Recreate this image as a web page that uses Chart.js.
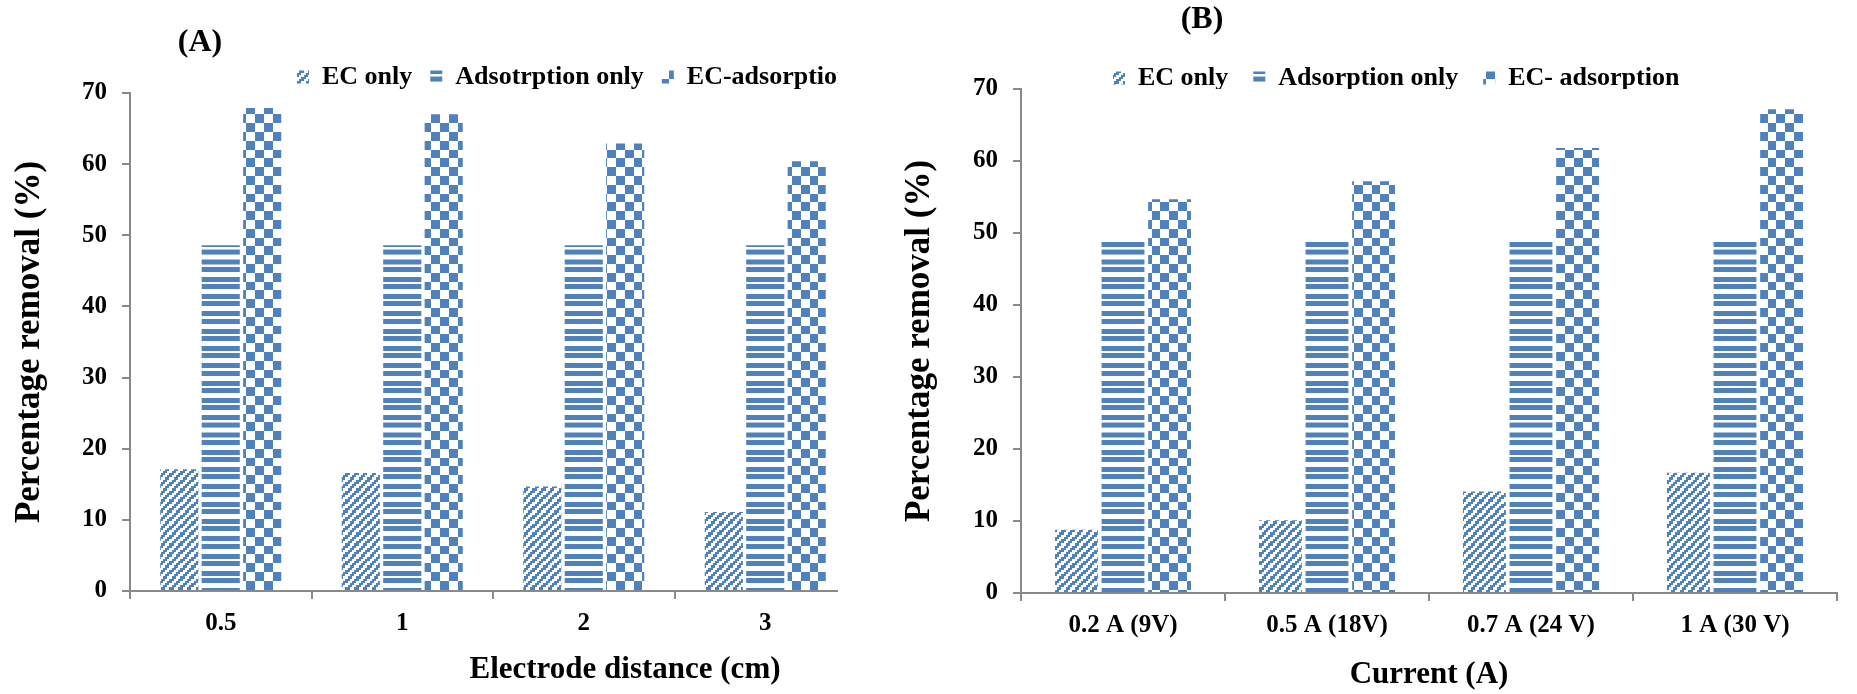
<!DOCTYPE html>
<html>
<head>
<meta charset="utf-8">
<title>Percentage removal</title>
<script src="https://cdn.jsdelivr.net/npm/chart.js@4.4.1/dist/chart.umd.min.js"></script>
<style>
  html, body { margin: 0; padding: 0; background: #fff; }
  #wrap { position: relative; width: 1857px; height: 694px; overflow: hidden; }
  #boxA { position: absolute; left: 0; top: 0; width: 838px; height: 694px; overflow: hidden; }
  #boxB { position: absolute; left: 870px; top: 0; width: 987px; height: 694px; }
</style>
</head>
<body>
<div id="wrap">
  <div id="boxA"><canvas id="chartA" width="870" height="694"></canvas></div>
  <div id="boxB"><canvas id="chartB" width="987" height="694"></canvas></div>
</div>
<script>
// (A) electrode distance
const distanceLabels = ['0.5', '1', '2', '3'];
const ecOnlyA = [17.1, 16.6, 14.7, 11.1];
const adsOnlyA = [48.6, 48.6, 48.6, 48.6];
const ecAdsA = [67.9, 67.0, 62.9, 60.4];

// (B) current
const currentLabels = ['0.2 A (9V)', '0.5 A (18V)', '0.7 A (24 V)', '1 A (30 V)'];
const ecOnlyB = [8.8, 10.1, 14.1, 16.7];
const adsOnlyB = [49.1, 49.1, 49.1, 49.1];
const ecAdsB = [54.7, 57.2, 61.8, 67.2];

const yTicks = [0, 10, 20, 30, 40, 50, 60, 70];

const BLUE = '#4f81bd';
const AXIS = '#898989';
const FONT = "'Liberation Serif', 'Times New Roman', serif";

// excel-like 8x8 fill patterns, scaled up
function bitmapPattern(rows, bit) {
  const k = 5, n = rows.length;
  const c = document.createElement('canvas');
  c.width = c.height = Math.round(n * bit * k);
  const g = c.getContext('2d');
  g.fillStyle = '#fff';
  g.fillRect(0, 0, c.width, c.height);
  g.fillStyle = BLUE;
  rows.forEach((r, y) => {
    for (let x = 0; x < n; x++) if (r[x] === '1') g.fillRect(x * bit * k, y * bit * k, bit * k, bit * k);
  });
  const p = g.createPattern(c, 'repeat');
  p.setTransform(new DOMMatrix().scale(1 / k));
  return p;
}

function stripePattern() {
  const k = 10;
  const c = document.createElement('canvas');
  c.width = 10; c.height = 173;
  const g = c.getContext('2d');
  g.fillStyle = '#fff';
  g.fillRect(0, 0, c.width, c.height);
  g.fillStyle = BLUE;
  g.fillRect(0, 0, 10, 50);
  g.fillRect(0, 73, 10, 50);
  const p = g.createPattern(c, 'repeat');
  p.setTransform(new DOMMatrix().scale(1 / k));
  return p;
}

const diagFill = bitmapPattern(['11001100', '10011001', '00110011', '01100110',
                                '11001100', '10011001', '00110011', '01100110'], 2.2);
const checkFill = bitmapPattern(['11110000', '11110000', '11110000', '11110000',
                                 '00001111', '00001111', '00001111', '00001111'], 2.2);
const stripeFill = stripePattern();

// move legend so the first swatch starts at startX
const legendShift = {
  id: 'legendShift',
  afterLayout(chart, args, opts) {
    const lg = chart.legend;
    if (!lg || !lg.lineWidths) return;
    const pad = lg.options.labels.padding;
    const cur = (lg.left + pad + lg.right - lg.lineWidths[0]) / 2;
    const dx = opts.startX - cur;
    lg.left += dx;
    lg.right += dx;
  }
};

// panel letters and free-standing titles
const extraText = {
  id: 'extraText',
  afterDraw(chart, args, opts) {
    const ctx = chart.ctx;
    ctx.save();
    ctx.fillStyle = '#000';
    ctx.textAlign = 'center';
    ctx.textBaseline = 'middle';
    (opts.items || []).forEach(t => {
      ctx.font = 'bold ' + t.size + 'px ' + FONT;
      ctx.fillText(t.text, t.x, t.y);
    });
    ctx.restore();
  }
};

function datasets(names, a, b, c) {
  return [
    { label: names[0], data: a, backgroundColor: diagFill },
    { label: names[1], data: b, backgroundColor: stripeFill },
    { label: names[2], data: c, backgroundColor: checkFill }
  ];
}

function buildOptions(o) {
  return {
    responsive: false,
    animation: false,
    events: [],
    datasets: { bar: { categoryPercentage: 0.685, barPercentage: 0.92, borderWidth: 0 } },
    layout: { padding: { top: o.padTop, right: o.padRight, left: 0, bottom: 0 } },
    plugins: {
      legend: {
        position: 'top',
        maxHeight: o.legendH,
        labels: { boxWidth: 12, boxHeight: 13, padding: o.legendPad, color: '#000',
                  font: { family: FONT, size: 26, weight: 'bold' } }
      },
      tooltip: { enabled: false },
      legendShift: { startX: o.legendX },
      extraText: { items: o.texts }
    },
    scales: {
      x: {
        afterFit: s => { s.height = o.xHeight; },
        grid: { offset: true, drawOnChartArea: false, drawTicks: true, tickLength: 8, color: AXIS, lineWidth: 2 },
        border: { display: true, color: AXIS, width: 2 },
        ticks: { color: '#000', padding: 10, maxRotation: 0, autoSkip: false,
                 font: { family: FONT, size: 25, weight: 'bold' } },
        title: o.xTitle
          ? { display: true, text: o.xTitle, color: '#000', padding: { top: 0, bottom: 0 },
              font: { family: FONT, size: 31, weight: 'bold' } }
          : { display: false }
      },
      y: {
        min: 0,
        max: 70,
        afterBuildTicks: s => { s.ticks = yTicks.map(v => ({ value: v })); },
        afterFit: s => { s.width = o.yWidth; },
        grid: { drawOnChartArea: false, drawTicks: true, tickLength: 8, color: AXIS, lineWidth: 2 },
        border: { display: true, color: AXIS, width: 2 },
        ticks: { color: '#000', padding: 15, font: { family: FONT, size: 25, weight: 'bold' } },
        title: { display: true, text: 'Percentage removal (%)', color: '#000',
                 padding: { top: o.yTitlePad, bottom: 0 },
                 font: { family: FONT, size: 35, weight: 'bold' } }
      }
    }
  };
}

new Chart(document.getElementById('chartA'), {
  type: 'bar',
  data: {
    labels: distanceLabels,
    datasets: datasets(['EC only', 'Adsotrption only', 'EC-adsorption'], ecOnlyA, adsOnlyA, ecAdsA)
  },
  options: buildOptions({
    padTop: 46, padRight: 14, legendH: 47, legendPad: 18, legendX: 297,
    xHeight: 103, yWidth: 130, yTitlePad: 9, xTitle: null,
    texts: [
      { text: '(A)', x: 200, y: 43, size: 32 },
      { text: 'Electrode distance (cm)', x: 625, y: 670, size: 31 }
    ]
  }),
  plugins: [legendShift, extraText]
});

new Chart(document.getElementById('chartB'), {
  type: 'bar',
  data: {
    labels: currentLabels,
    datasets: datasets(['EC only', 'Adsorption only', 'EC- adsorption'], ecOnlyB, adsOnlyB, ecAdsB)
  },
  options: buildOptions({
    padTop: 40, padRight: 20, legendH: 49, legendPad: 25, legendX: 243,
    xHeight: 101, yWidth: 151, yTitlePad: 29, xTitle: 'Current (A)',
    texts: [
      { text: '(B)', x: 332, y: 20, size: 32 }
    ]
  }),
  plugins: [legendShift, extraText]
});
</script>
</body>
</html>
